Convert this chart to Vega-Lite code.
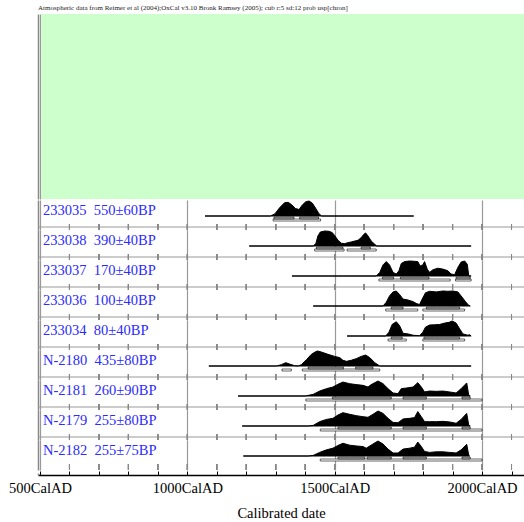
{
  "$schema": "https://vega.github.io/schema/vega-lite/v6.json",
  "padding": {"left": 8, "top": 4, "right": 0, "bottom": 0},
  "background": "white",
  "title": {
    "text": "Atmospheric data from Reimer et al (2004);OxCal v3.10 Bronk Ramsey (2005); cub r:5 sd:12 prob usp[chron]",
    "anchor": "start", "frame": "group", "font": "Liberation Serif", "fontSize": 7,
    "fontWeight": "normal", "color": "#222", "offset": 3
  },
  "spacing": 0,
  "config": {
    "view": {"stroke": null},
    "axis": {"labelFont": "Liberation Serif", "titleFont": "Liberation Serif"}
  },
  "datasets": {
    "d": [
      {"s": "233035", "kind": "lab", "label": "233035\u00a0 550±60BP"},
      {"s": "233038", "kind": "lab", "label": "233038\u00a0 390±40BP"},
      {"s": "233037", "kind": "lab", "label": "233037\u00a0 170±40BP"},
      {"s": "233036", "kind": "lab", "label": "233036\u00a0 100±40BP"},
      {"s": "233034", "kind": "lab", "label": "233034\u00a0 80±40BP"},
      {"s": "N-2180", "kind": "lab", "label": "N-2180\u00a0 435±80BP"},
      {"s": "N-2181", "kind": "lab", "label": "N-2181\u00a0 260±90BP"},
      {"s": "N-2179", "kind": "lab", "label": "N-2179\u00a0 255±80BP"},
      {"s": "N-2182", "kind": "lab", "label": "N-2182\u00a0 255±75BP"},

      {"s": "233035", "kind": "sep", "yrs": [600,700,800,900,1000,1100,1200,1300,1400,1500,1600,1700,1800,1900,2000,2100]},
      {"s": "233038", "kind": "sep", "yrs": [600,700,800,900,1000,1100,1200,1300,1400,1500,1600,1700,1800,1900,2000,2100]},
      {"s": "233037", "kind": "sep", "yrs": [600,700,800,900,1000,1100,1200,1300,1400,1500,1600,1700,1800,1900,2000,2100]},
      {"s": "233036", "kind": "sep", "yrs": [600,700,800,900,1000,1100,1200,1300,1400,1500,1600,1700,1800,1900,2000,2100]},
      {"s": "233034", "kind": "sep", "yrs": [600,700,800,900,1000,1100,1200,1300,1400,1500,1600,1700,1800,1900,2000,2100]},
      {"s": "N-2180", "kind": "sep", "yrs": [600,700,800,900,1000,1100,1200,1300,1400,1500,1600,1700,1800,1900,2000,2100]},
      {"s": "N-2181", "kind": "sep", "yrs": [600,700,800,900,1000,1100,1200,1300,1400,1500,1600,1700,1800,1900,2000,2100]},
      {"s": "N-2179", "kind": "sep", "yrs": [600,700,800,900,1000,1100,1200,1300,1400,1500,1600,1700,1800,1900,2000,2100]},

      {"s": "233035", "kind": "r68", "t": 1294, "t2": 1362},
      {"s": "233035", "kind": "r68", "t": 1381, "t2": 1445},
      {"s": "233035", "kind": "r95", "t": 1291, "t2": 1452},
      {"s": "233038", "kind": "r68", "t": 1438, "t2": 1528},
      {"s": "233038", "kind": "r68", "t": 1590, "t2": 1621},
      {"s": "233038", "kind": "r95", "t": 1432, "t2": 1532},
      {"s": "233038", "kind": "r95", "t": 1542, "t2": 1641},
      {"s": "233037", "kind": "r68", "t": 1662, "t2": 1700},
      {"s": "233037", "kind": "r68", "t": 1723, "t2": 1820},
      {"s": "233037", "kind": "r68", "t": 1912, "t2": 1960},
      {"s": "233037", "kind": "r95", "t": 1650, "t2": 1892},
      {"s": "233037", "kind": "r95", "t": 1910, "t2": 1963},
      {"s": "233036", "kind": "r68", "t": 1692, "t2": 1732},
      {"s": "233036", "kind": "r68", "t": 1811, "t2": 1924},
      {"s": "233036", "kind": "r95", "t": 1673, "t2": 1782},
      {"s": "233036", "kind": "r95", "t": 1799, "t2": 1941},
      {"s": "233034", "kind": "r68", "t": 1692, "t2": 1729},
      {"s": "233034", "kind": "r68", "t": 1803, "t2": 1924},
      {"s": "233034", "kind": "r95", "t": 1681, "t2": 1743},
      {"s": "233034", "kind": "r95", "t": 1799, "t2": 1941},
      {"s": "N-2180", "kind": "r68", "t": 1410, "t2": 1530},
      {"s": "N-2180", "kind": "r68", "t": 1571, "t2": 1630},
      {"s": "N-2180", "kind": "r95", "t": 1321, "t2": 1353},
      {"s": "N-2180", "kind": "r95", "t": 1390, "t2": 1653},
      {"s": "N-2181", "kind": "r68", "t": 1492, "t2": 1692},
      {"s": "N-2181", "kind": "r68", "t": 1732, "t2": 1811},
      {"s": "N-2181", "kind": "r68", "t": 1932, "t2": 1960},
      {"s": "N-2181", "kind": "r95", "t": 1402, "t2": 2000},
      {"s": "N-2179", "kind": "r68", "t": 1511, "t2": 1692},
      {"s": "N-2179", "kind": "r68", "t": 1732, "t2": 1811},
      {"s": "N-2179", "kind": "r68", "t": 1932, "t2": 1960},
      {"s": "N-2179", "kind": "r95", "t": 1451, "t2": 2000},
      {"s": "N-2182", "kind": "r68", "t": 1511, "t2": 1602},
      {"s": "N-2182", "kind": "r68", "t": 1610, "t2": 1692},
      {"s": "N-2182", "kind": "r68", "t": 1732, "t2": 1811},
      {"s": "N-2182", "kind": "r68", "t": 1932, "t2": 1960},
      {"s": "N-2182", "kind": "r95", "t": 1451, "t2": 2000},

      {"s": "233035", "kind": "p", "t": 1060, "p": 0},
      {"s": "233035", "kind": "p", "t": 1282, "p": 0},
      {"s": "233035", "kind": "p", "t": 1297, "p": 0.14},
      {"s": "233035", "kind": "p", "t": 1313, "p": 0.55},
      {"s": "233035", "kind": "p", "t": 1330, "p": 0.89},
      {"s": "233035", "kind": "p", "t": 1342, "p": 0.91},
      {"s": "233035", "kind": "p", "t": 1353, "p": 0.77},
      {"s": "233035", "kind": "p", "t": 1367, "p": 0.5},
      {"s": "233035", "kind": "p", "t": 1379, "p": 0.43},
      {"s": "233035", "kind": "p", "t": 1390, "p": 0.73},
      {"s": "233035", "kind": "p", "t": 1402, "p": 0.95},
      {"s": "233035", "kind": "p", "t": 1413, "p": 1.0},
      {"s": "233035", "kind": "p", "t": 1424, "p": 0.86},
      {"s": "233035", "kind": "p", "t": 1436, "p": 0.5},
      {"s": "233035", "kind": "p", "t": 1447, "p": 0.14},
      {"s": "233035", "kind": "p", "t": 1456, "p": 0},
      {"s": "233035", "kind": "p", "t": 1768, "p": 0},

      {"s": "233038", "kind": "p", "t": 1210, "p": 0},
      {"s": "233038", "kind": "p", "t": 1427, "p": 0},
      {"s": "233038", "kind": "p", "t": 1436, "p": 0.16},
      {"s": "233038", "kind": "p", "t": 1443, "p": 0.67},
      {"s": "233038", "kind": "p", "t": 1451, "p": 0.93},
      {"s": "233038", "kind": "p", "t": 1466, "p": 1.0},
      {"s": "233038", "kind": "p", "t": 1481, "p": 0.98},
      {"s": "233038", "kind": "p", "t": 1492, "p": 0.89},
      {"s": "233038", "kind": "p", "t": 1501, "p": 0.67},
      {"s": "233038", "kind": "p", "t": 1511, "p": 0.38},
      {"s": "233038", "kind": "p", "t": 1523, "p": 0.18},
      {"s": "233038", "kind": "p", "t": 1534, "p": 0.16},
      {"s": "233038", "kind": "p", "t": 1545, "p": 0.22},
      {"s": "233038", "kind": "p", "t": 1556, "p": 0.27},
      {"s": "233038", "kind": "p", "t": 1568, "p": 0.33},
      {"s": "233038", "kind": "p", "t": 1579, "p": 0.38},
      {"s": "233038", "kind": "p", "t": 1590, "p": 0.56},
      {"s": "233038", "kind": "p", "t": 1599, "p": 0.78},
      {"s": "233038", "kind": "p", "t": 1605, "p": 0.87},
      {"s": "233038", "kind": "p", "t": 1613, "p": 0.67},
      {"s": "233038", "kind": "p", "t": 1624, "p": 0.33},
      {"s": "233038", "kind": "p", "t": 1636, "p": 0.11},
      {"s": "233038", "kind": "p", "t": 1643, "p": 0},
      {"s": "233038", "kind": "p", "t": 1963, "p": 0},

      {"s": "233037", "kind": "p", "t": 1355, "p": 0},
      {"s": "233037", "kind": "p", "t": 1641, "p": 0},
      {"s": "233037", "kind": "p", "t": 1653, "p": 0.24},
      {"s": "233037", "kind": "p", "t": 1664, "p": 0.74},
      {"s": "233037", "kind": "p", "t": 1675, "p": 0.96},
      {"s": "233037", "kind": "p", "t": 1686, "p": 0.74},
      {"s": "233037", "kind": "p", "t": 1698, "p": 0.24},
      {"s": "233037", "kind": "p", "t": 1709, "p": 0.13},
      {"s": "233037", "kind": "p", "t": 1718, "p": 0.35},
      {"s": "233037", "kind": "p", "t": 1726, "p": 0.83},
      {"s": "233037", "kind": "p", "t": 1737, "p": 0.96},
      {"s": "233037", "kind": "p", "t": 1754, "p": 1.0},
      {"s": "233037", "kind": "p", "t": 1771, "p": 0.98},
      {"s": "233037", "kind": "p", "t": 1782, "p": 0.96},
      {"s": "233037", "kind": "p", "t": 1790, "p": 0.67},
      {"s": "233037", "kind": "p", "t": 1799, "p": 0.74},
      {"s": "233037", "kind": "p", "t": 1805, "p": 0.96},
      {"s": "233037", "kind": "p", "t": 1814, "p": 0.46},
      {"s": "233037", "kind": "p", "t": 1822, "p": 0.24},
      {"s": "233037", "kind": "p", "t": 1833, "p": 0.41},
      {"s": "233037", "kind": "p", "t": 1850, "p": 0.52},
      {"s": "233037", "kind": "p", "t": 1867, "p": 0.46},
      {"s": "233037", "kind": "p", "t": 1884, "p": 0.35},
      {"s": "233037", "kind": "p", "t": 1895, "p": 0.13},
      {"s": "233037", "kind": "p", "t": 1907, "p": 0.09},
      {"s": "233037", "kind": "p", "t": 1918, "p": 0.57},
      {"s": "233037", "kind": "p", "t": 1929, "p": 0.93},
      {"s": "233037", "kind": "p", "t": 1941, "p": 1.0},
      {"s": "233037", "kind": "p", "t": 1950, "p": 0.78},
      {"s": "233037", "kind": "p", "t": 1955, "p": 0},
      {"s": "233037", "kind": "p", "t": 1963, "p": 0},

      {"s": "233036", "kind": "p", "t": 1427, "p": 0},
      {"s": "233036", "kind": "p", "t": 1664, "p": 0},
      {"s": "233036", "kind": "p", "t": 1675, "p": 0.25},
      {"s": "233036", "kind": "p", "t": 1686, "p": 0.67},
      {"s": "233036", "kind": "p", "t": 1698, "p": 0.94},
      {"s": "233036", "kind": "p", "t": 1709, "p": 1.0},
      {"s": "233036", "kind": "p", "t": 1720, "p": 0.77},
      {"s": "233036", "kind": "p", "t": 1732, "p": 0.46},
      {"s": "233036", "kind": "p", "t": 1749, "p": 0.4},
      {"s": "233036", "kind": "p", "t": 1766, "p": 0.29},
      {"s": "233036", "kind": "p", "t": 1779, "p": 0.15},
      {"s": "233036", "kind": "p", "t": 1788, "p": 0.1},
      {"s": "233036", "kind": "p", "t": 1797, "p": 0.46},
      {"s": "233036", "kind": "p", "t": 1808, "p": 0.88},
      {"s": "233036", "kind": "p", "t": 1822, "p": 0.98},
      {"s": "233036", "kind": "p", "t": 1845, "p": 0.94},
      {"s": "233036", "kind": "p", "t": 1867, "p": 1.0},
      {"s": "233036", "kind": "p", "t": 1884, "p": 0.98},
      {"s": "233036", "kind": "p", "t": 1901, "p": 1.0},
      {"s": "233036", "kind": "p", "t": 1918, "p": 0.94},
      {"s": "233036", "kind": "p", "t": 1929, "p": 0.67},
      {"s": "233036", "kind": "p", "t": 1944, "p": 0.29},
      {"s": "233036", "kind": "p", "t": 1955, "p": 0.04},
      {"s": "233036", "kind": "p", "t": 1960, "p": 0},

      {"s": "233034", "kind": "p", "t": 1542, "p": 0},
      {"s": "233034", "kind": "p", "t": 1673, "p": 0},
      {"s": "233034", "kind": "p", "t": 1684, "p": 0.25},
      {"s": "233034", "kind": "p", "t": 1695, "p": 0.77},
      {"s": "233034", "kind": "p", "t": 1709, "p": 0.95},
      {"s": "233034", "kind": "p", "t": 1720, "p": 0.7},
      {"s": "233034", "kind": "p", "t": 1732, "p": 0.18},
      {"s": "233034", "kind": "p", "t": 1749, "p": 0.14},
      {"s": "233034", "kind": "p", "t": 1766, "p": 0.05},
      {"s": "233034", "kind": "p", "t": 1788, "p": 0.02},
      {"s": "233034", "kind": "p", "t": 1799, "p": 0.25},
      {"s": "233034", "kind": "p", "t": 1808, "p": 0.59},
      {"s": "233034", "kind": "p", "t": 1822, "p": 0.73},
      {"s": "233034", "kind": "p", "t": 1839, "p": 0.75},
      {"s": "233034", "kind": "p", "t": 1856, "p": 0.77},
      {"s": "233034", "kind": "p", "t": 1873, "p": 0.86},
      {"s": "233034", "kind": "p", "t": 1888, "p": 0.91},
      {"s": "233034", "kind": "p", "t": 1899, "p": 1.0},
      {"s": "233034", "kind": "p", "t": 1912, "p": 0.86},
      {"s": "233034", "kind": "p", "t": 1924, "p": 0.48},
      {"s": "233034", "kind": "p", "t": 1935, "p": 0.14},
      {"s": "233034", "kind": "p", "t": 1952, "p": 0.05},
      {"s": "233034", "kind": "p", "t": 1958, "p": 0.09},
      {"s": "233034", "kind": "p", "t": 1963, "p": 0},

      {"s": "N-2180", "kind": "p", "t": 1073, "p": 0},
      {"s": "N-2180", "kind": "p", "t": 1302, "p": 0},
      {"s": "N-2180", "kind": "p", "t": 1319, "p": 0.09},
      {"s": "N-2180", "kind": "p", "t": 1334, "p": 0.22},
      {"s": "N-2180", "kind": "p", "t": 1347, "p": 0.13},
      {"s": "N-2180", "kind": "p", "t": 1364, "p": 0.02},
      {"s": "N-2180", "kind": "p", "t": 1376, "p": 0},
      {"s": "N-2180", "kind": "p", "t": 1387, "p": 0.09},
      {"s": "N-2180", "kind": "p", "t": 1404, "p": 0.42},
      {"s": "N-2180", "kind": "p", "t": 1421, "p": 0.78},
      {"s": "N-2180", "kind": "p", "t": 1436, "p": 0.96},
      {"s": "N-2180", "kind": "p", "t": 1443, "p": 1.0},
      {"s": "N-2180", "kind": "p", "t": 1458, "p": 0.91},
      {"s": "N-2180", "kind": "p", "t": 1477, "p": 0.78},
      {"s": "N-2180", "kind": "p", "t": 1500, "p": 0.64},
      {"s": "N-2180", "kind": "p", "t": 1517, "p": 0.56},
      {"s": "N-2180", "kind": "p", "t": 1528, "p": 0.38},
      {"s": "N-2180", "kind": "p", "t": 1540, "p": 0.31},
      {"s": "N-2180", "kind": "p", "t": 1556, "p": 0.38},
      {"s": "N-2180", "kind": "p", "t": 1573, "p": 0.49},
      {"s": "N-2180", "kind": "p", "t": 1590, "p": 0.64},
      {"s": "N-2180", "kind": "p", "t": 1605, "p": 0.73},
      {"s": "N-2180", "kind": "p", "t": 1619, "p": 0.56},
      {"s": "N-2180", "kind": "p", "t": 1636, "p": 0.22},
      {"s": "N-2180", "kind": "p", "t": 1653, "p": 0},
      {"s": "N-2180", "kind": "p", "t": 1963, "p": 0},

      {"s": "N-2181", "kind": "p", "t": 1172, "p": 0},
      {"s": "N-2181", "kind": "p", "t": 1400, "p": 0},
      {"s": "N-2181", "kind": "p", "t": 1427, "p": 0.11},
      {"s": "N-2181", "kind": "p", "t": 1449, "p": 0.33},
      {"s": "N-2181", "kind": "p", "t": 1472, "p": 0.49},
      {"s": "N-2181", "kind": "p", "t": 1494, "p": 0.6},
      {"s": "N-2181", "kind": "p", "t": 1511, "p": 0.78},
      {"s": "N-2181", "kind": "p", "t": 1528, "p": 0.93},
      {"s": "N-2181", "kind": "p", "t": 1551, "p": 0.82},
      {"s": "N-2181", "kind": "p", "t": 1573, "p": 0.76},
      {"s": "N-2181", "kind": "p", "t": 1596, "p": 0.71},
      {"s": "N-2181", "kind": "p", "t": 1613, "p": 0.6},
      {"s": "N-2181", "kind": "p", "t": 1624, "p": 0.76},
      {"s": "N-2181", "kind": "p", "t": 1647, "p": 1.0},
      {"s": "N-2181", "kind": "p", "t": 1664, "p": 0.82},
      {"s": "N-2181", "kind": "p", "t": 1681, "p": 0.49},
      {"s": "N-2181", "kind": "p", "t": 1698, "p": 0.2},
      {"s": "N-2181", "kind": "p", "t": 1715, "p": 0.16},
      {"s": "N-2181", "kind": "p", "t": 1726, "p": 0.49},
      {"s": "N-2181", "kind": "p", "t": 1743, "p": 0.53},
      {"s": "N-2181", "kind": "p", "t": 1766, "p": 0.6},
      {"s": "N-2181", "kind": "p", "t": 1782, "p": 0.89},
      {"s": "N-2181", "kind": "p", "t": 1794, "p": 0.6},
      {"s": "N-2181", "kind": "p", "t": 1805, "p": 0.27},
      {"s": "N-2181", "kind": "p", "t": 1822, "p": 0.33},
      {"s": "N-2181", "kind": "p", "t": 1845, "p": 0.31},
      {"s": "N-2181", "kind": "p", "t": 1867, "p": 0.33},
      {"s": "N-2181", "kind": "p", "t": 1890, "p": 0.27},
      {"s": "N-2181", "kind": "p", "t": 1912, "p": 0.2},
      {"s": "N-2181", "kind": "p", "t": 1929, "p": 0.49},
      {"s": "N-2181", "kind": "p", "t": 1948, "p": 0.87},
      {"s": "N-2181", "kind": "p", "t": 1955, "p": 0.04},
      {"s": "N-2181", "kind": "p", "t": 1960, "p": 0},

      {"s": "N-2179", "kind": "p", "t": 1186, "p": 0},
      {"s": "N-2179", "kind": "p", "t": 1410, "p": 0},
      {"s": "N-2179", "kind": "p", "t": 1427, "p": 0.04},
      {"s": "N-2179", "kind": "p", "t": 1449, "p": 0.29},
      {"s": "N-2179", "kind": "p", "t": 1472, "p": 0.44},
      {"s": "N-2179", "kind": "p", "t": 1494, "p": 0.51},
      {"s": "N-2179", "kind": "p", "t": 1511, "p": 0.73},
      {"s": "N-2179", "kind": "p", "t": 1528, "p": 0.89},
      {"s": "N-2179", "kind": "p", "t": 1551, "p": 0.78},
      {"s": "N-2179", "kind": "p", "t": 1573, "p": 0.69},
      {"s": "N-2179", "kind": "p", "t": 1596, "p": 0.62},
      {"s": "N-2179", "kind": "p", "t": 1613, "p": 0.58},
      {"s": "N-2179", "kind": "p", "t": 1630, "p": 0.78},
      {"s": "N-2179", "kind": "p", "t": 1647, "p": 1.0},
      {"s": "N-2179", "kind": "p", "t": 1664, "p": 0.84},
      {"s": "N-2179", "kind": "p", "t": 1681, "p": 0.51},
      {"s": "N-2179", "kind": "p", "t": 1698, "p": 0.24},
      {"s": "N-2179", "kind": "p", "t": 1715, "p": 0.22},
      {"s": "N-2179", "kind": "p", "t": 1732, "p": 0.47},
      {"s": "N-2179", "kind": "p", "t": 1754, "p": 0.51},
      {"s": "N-2179", "kind": "p", "t": 1771, "p": 0.56},
      {"s": "N-2179", "kind": "p", "t": 1782, "p": 0.96},
      {"s": "N-2179", "kind": "p", "t": 1794, "p": 0.62},
      {"s": "N-2179", "kind": "p", "t": 1805, "p": 0.29},
      {"s": "N-2179", "kind": "p", "t": 1822, "p": 0.29},
      {"s": "N-2179", "kind": "p", "t": 1845, "p": 0.29},
      {"s": "N-2179", "kind": "p", "t": 1867, "p": 0.31},
      {"s": "N-2179", "kind": "p", "t": 1890, "p": 0.27},
      {"s": "N-2179", "kind": "p", "t": 1912, "p": 0.18},
      {"s": "N-2179", "kind": "p", "t": 1929, "p": 0.44},
      {"s": "N-2179", "kind": "p", "t": 1948, "p": 0.84},
      {"s": "N-2179", "kind": "p", "t": 1955, "p": 0.04},
      {"s": "N-2179", "kind": "p", "t": 1960, "p": 0},

      {"s": "N-2182", "kind": "p", "t": 1190, "p": 0},
      {"s": "N-2182", "kind": "p", "t": 1410, "p": 0},
      {"s": "N-2182", "kind": "p", "t": 1427, "p": 0.04},
      {"s": "N-2182", "kind": "p", "t": 1449, "p": 0.24},
      {"s": "N-2182", "kind": "p", "t": 1472, "p": 0.41},
      {"s": "N-2182", "kind": "p", "t": 1494, "p": 0.52},
      {"s": "N-2182", "kind": "p", "t": 1511, "p": 0.7},
      {"s": "N-2182", "kind": "p", "t": 1528, "p": 0.85},
      {"s": "N-2182", "kind": "p", "t": 1551, "p": 0.72},
      {"s": "N-2182", "kind": "p", "t": 1573, "p": 0.67},
      {"s": "N-2182", "kind": "p", "t": 1596, "p": 0.63},
      {"s": "N-2182", "kind": "p", "t": 1607, "p": 0.52},
      {"s": "N-2182", "kind": "p", "t": 1630, "p": 0.8},
      {"s": "N-2182", "kind": "p", "t": 1647, "p": 1.0},
      {"s": "N-2182", "kind": "p", "t": 1664, "p": 0.8},
      {"s": "N-2182", "kind": "p", "t": 1681, "p": 0.46},
      {"s": "N-2182", "kind": "p", "t": 1698, "p": 0.2},
      {"s": "N-2182", "kind": "p", "t": 1715, "p": 0.2},
      {"s": "N-2182", "kind": "p", "t": 1732, "p": 0.46},
      {"s": "N-2182", "kind": "p", "t": 1754, "p": 0.52},
      {"s": "N-2182", "kind": "p", "t": 1771, "p": 0.59},
      {"s": "N-2182", "kind": "p", "t": 1782, "p": 0.93},
      {"s": "N-2182", "kind": "p", "t": 1794, "p": 0.63},
      {"s": "N-2182", "kind": "p", "t": 1805, "p": 0.3},
      {"s": "N-2182", "kind": "p", "t": 1822, "p": 0.24},
      {"s": "N-2182", "kind": "p", "t": 1845, "p": 0.28},
      {"s": "N-2182", "kind": "p", "t": 1867, "p": 0.28},
      {"s": "N-2182", "kind": "p", "t": 1890, "p": 0.24},
      {"s": "N-2182", "kind": "p", "t": 1912, "p": 0.2},
      {"s": "N-2182", "kind": "p", "t": 1929, "p": 0.41},
      {"s": "N-2182", "kind": "p", "t": 1948, "p": 0.78},
      {"s": "N-2182", "kind": "p", "t": 1955, "p": 0.04},
      {"s": "N-2182", "kind": "p", "t": 1958, "p": 0}
    ]
  },
  "vconcat": [
    {
      "width": 486,
      "height": 185,
      "data": {"values": [{"box": "info"}]},
      "mark": {"type": "rect", "fill": "#ccffcc", "stroke": null},
      "encoding": {
        "x": {"datum": 504, "type": "quantitative",
              "scale": {"domain": [493.2, 2142.4], "nice": false, "zero": false},
              "axis": {"values": [500], "grid": true, "gridColor": "#999", "gridWidth": 1.2,
                       "labels": false, "ticks": false, "domain": false, "title": null}},
        "x2": {"datum": 2142.4},
        "y": {"datum": 0, "type": "quantitative",
              "scale": {"domain": [0, 185], "nice": false, "zero": false, "reverse": true},
              "axis": {"labels": false, "ticks": false, "grid": false, "domain": true,
                       "domainColor": "#888", "domainWidth": 1.5, "title": null}},
        "y2": {"datum": 185}
      }
    },
    {
      "data": {"name": "d"},
      "bounds": "flush",
      "facet": {
        "row": {"field": "s", "type": "nominal", "header": null,
                "sort": ["233035", "233038", "233037", "233036", "233034", "N-2180", "N-2181", "N-2179", "N-2182"]}
      },
      "spacing": 0,
      "spec": {
        "width": 486,
        "height": 30,
        "layer": [
          {
            "transform": [{"filter": "datum.kind == 'p'"}],
            "mark": {"type": "area", "color": "black", "stroke": "black", "strokeWidth": 1, "fillOpacity": 1},
            "encoding": {
              "x": {"field": "t", "type": "quantitative", "title": null,
                    "scale": {"domain": [493.2, 2142.4], "nice": false, "zero": false},
                    "axis": {"values": [500, 1000, 1500, 2000], "grid": true, "gridColor": "#999", "gridWidth": 1.2,
                             "labels": false, "ticks": false, "domain": false, "title": null}},
              "y": {"field": "p", "type": "quantitative", "title": null,
                    "scale": {"domain": [-0.9333, 1.0667], "nice": false, "zero": false},
                    "axis": {"labels": false, "ticks": false, "grid": false, "domain": true,
                             "domainColor": "#888", "domainWidth": 1.5, "title": null}},
              "y2": {"datum": 0}
            }
          },
          {
            "transform": [{"filter": "datum.kind == 'sep'"}],
            "mark": {"type": "rule", "color": "#999", "strokeWidth": 1.2},
            "encoding": {"y": {"datum": -0.7333, "type": "quantitative"}}
          },
          {
            "transform": [{"filter": "datum.kind == 'sep'"}, {"flatten": ["yrs"]}],
            "mark": {"type": "tick", "orient": "vertical", "size": 6, "thickness": 1, "color": "#888"},
            "encoding": {
              "x": {"field": "yrs", "type": "quantitative", "title": null},
              "y": {"datum": -0.7333, "type": "quantitative"}
            }
          },
          {
            "transform": [{"filter": "datum.kind == 'r95'"}],
            "mark": {"type": "rect", "fill": "white", "stroke": "black", "strokeWidth": 0.6},
            "encoding": {
              "x": {"field": "t", "type": "quantitative", "title": null},
              "x2": {"field": "t2"},
              "y": {"datum": -0.2, "type": "quantitative"},
              "y2": {"datum": -0.3333}
            }
          },
          {
            "transform": [{"filter": "datum.kind == 'r68'"}],
            "mark": {"type": "rect", "fill": "#aaa", "stroke": "black", "strokeWidth": 0.6},
            "encoding": {
              "x": {"field": "t", "type": "quantitative", "title": null},
              "x2": {"field": "t2"},
              "y": {"datum": -0.067, "type": "quantitative"},
              "y2": {"datum": -0.2}
            }
          },
          {
            "transform": [{"filter": "datum.kind == 'lab'"}],
            "mark": {"type": "text", "align": "left", "baseline": "middle", "dx": 3,
                     "font": "Liberation Serif", "fontSize": 14.5, "color": "#2b2bff"},
            "encoding": {
              "x": {"datum": 500, "type": "quantitative"},
              "y": {"datum": 0.333, "type": "quantitative"},
              "text": {"field": "label"}
            }
          }
        ]
      }
    },
    {
      "width": 486,
      "height": 2,
      "data": {"values": [{"axis": "bottom"}]},
      "mark": {"type": "point", "opacity": 0},
      "encoding": {
        "x": {"datum": 1000, "type": "quantitative",
              "scale": {"domain": [493.2, 2142.4], "nice": false, "zero": false},
              "axis": {
                "values": [500,600,700,800,900,1000,1100,1200,1300,1400,1500,1600,1700,1800,1900,2000,2100],
                "grid": true,
                "gridColor": {"condition": {"test": "datum.value % 500 == 0", "value": "#999"}, "value": "transparent"},
                "gridWidth": 1.2,
                "labelExpr": "datum.value % 500 == 0 ? datum.value + 'CalAD' : ''",
                "labelOverlap": false,
                "labelFont": "Liberation Serif", "labelFontSize": 14.5, "labelColor": "black",
                "labelPadding": 10,
                "tickSize": -4, "tickColor": "black", "tickWidth": 1,
                "domain": true, "domainColor": "black", "domainWidth": 1.5,
                "title": "Calibrated date", "titleFont": "Liberation Serif", "titleFontSize": 14.5,
                "titleFontWeight": "normal", "titleColor": "black", "titlePadding": 12
              }},
        "y": {"datum": 0, "type": "quantitative",
              "scale": {"domain": [0, 1], "nice": false, "zero": false},
              "axis": {"labels": false, "ticks": false, "grid": false, "domain": true,
                       "domainColor": "#888", "domainWidth": 1.5, "title": null}}
      }
    }
  ]
}
